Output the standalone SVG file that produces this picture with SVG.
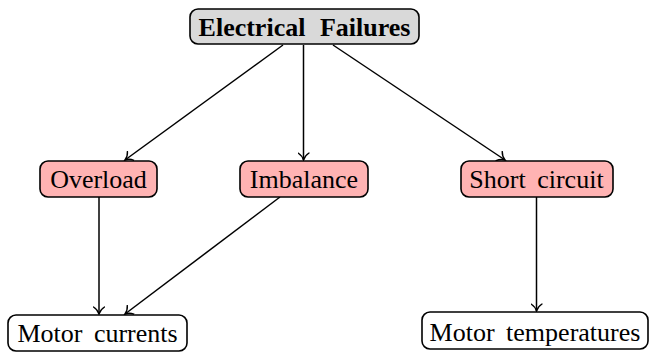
<svg xmlns="http://www.w3.org/2000/svg" width="651" height="354" viewBox="0 0 651 354">
<style>
.box{stroke:#000;stroke-width:1.6}
.gray{fill:#d9d9d9}
.pink{fill:#ffb3b3}
.white{fill:#fff}
.edge{stroke:#000;stroke-width:1.5;fill:none;marker-end:url(#arr)}
</style>
<defs>
<marker id="arr" viewBox="-9 -6 11 12" refX="0" refY="0" markerWidth="11" markerHeight="12" markerUnits="userSpaceOnUse" orient="auto">
<path d="M-7,-5.5 C-5,-2.3 -2,-0.6 0,0 C-2,0.6 -5,2.3 -7,5.5" fill="none" stroke="#000" stroke-width="1.4" stroke-linecap="round"/>
</marker>
</defs>
<g id="connectors">
<line class="edge" x1="283" y1="45" x2="125" y2="160"/>
<line class="edge" x1="303.5" y1="45" x2="303.5" y2="160"/>
<line class="edge" x1="333" y1="45" x2="505" y2="160"/>
<line class="edge" x1="99" y1="197" x2="99" y2="314"/>
<line class="edge" x1="280" y1="197" x2="125" y2="314"/>
<line class="edge" x1="536.5" y1="197" x2="536.5" y2="311"/>
</g>
<g font-family="Liberation Serif, Times New Roman, serif" font-size="26" text-anchor="middle" fill="#000" word-spacing="5">
<g id="electrical-failures">
<rect class="box gray" x="190" y="9" width="229" height="35" rx="8"/>
<text font-weight="bold" word-spacing="8" x="304.5" y="36">Electrical Failures</text>
</g>
<g id="overload">
<rect class="box pink" x="40" y="161" width="117" height="36" rx="8"/>
<text x="98.5" y="187.5">Overload</text>
</g>
<g id="imbalance">
<rect class="box pink" x="240" y="161" width="128" height="36" rx="8"/>
<text x="304" y="187.5">Imbalance</text>
</g>
<g id="short-circuit">
<rect class="box pink" x="461" y="161" width="152" height="36" rx="8"/>
<text x="536.5" y="187.5">Short circuit</text>
</g>
<g id="motor-currents">
<rect class="box white" x="8" y="315" width="179" height="36" rx="8"/>
<text x="97.5" y="341.5">Motor currents</text>
</g>
<g id="motor-temperatures">
<rect class="box white" x="422" y="312" width="226" height="37" rx="8"/>
<text x="535" y="340.5">Motor temperatures</text>
</g>
</g>
</svg>
